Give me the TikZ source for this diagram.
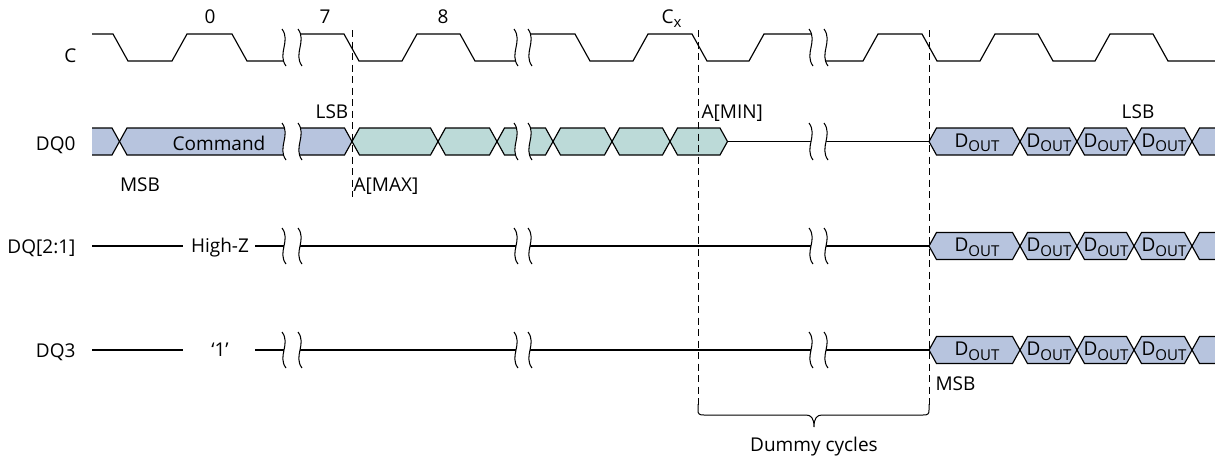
\documentclass[tikz,border=0pt]{standalone}
\usepackage{fontspec}
\setmainfont{Open Sans}
\definecolor{bluec}{RGB}{183,196,222}
\definecolor{tealc}{RGB}{188,218,216}
\newcommand\dout{D\raisebox{-4.5pt}{\fontsize{15}{15}\selectfont OUT}}
\newcommand\cellhex[4]{%
  \filldraw[fill=#4] (#1,#3) -- (#1+7.5,#3-13.5) -- (#2-7.5,#3-13.5) -- (#2,#3) -- (#2-7.5,#3+13.5) -- (#1+7.5,#3+13.5) -- cycle;}
\newcommand\brkmark[4]{%
  \fill[white] (#1-2,#3) .. controls (#1+7,{#3+0.33*(#4-#3)}) and (#1-7,{#4-0.33*(#4-#3)}) .. (#1+2,#4)
     -- (#2+2,#4) .. controls (#2-7,{#4-0.33*(#4-#3)}) and (#2+7,{#3+0.33*(#4-#3)}) .. (#2-2,#3) -- cycle;
  \draw[line width=1.05pt] (#1-2,#3) .. controls (#1+7,{#3+0.33*(#4-#3)}) and (#1-7,{#4-0.33*(#4-#3)}) .. (#1+2,#4);
  \draw[line width=1.05pt] (#2-2,#3) .. controls (#2+7,{#3+0.33*(#4-#3)}) and (#2-7,{#4-0.33*(#4-#3)}) .. (#2+2,#4);}
\begin{document}
\begin{tikzpicture}[x=1pt,y=-1pt,line width=1.15pt,
  lbl/.style={font=\fontsize{19}{21}\selectfont,inner sep=0pt},
  dsh/.style={line width=0.9pt,dash pattern=on 7pt off 4.5pt}]
\useasboundingbox (0,0) rectangle (1215,459);
\clip (0,0) rectangle (1215,459);
% clock
\draw (92,34) -- (113,34) -- (128,61) -- (172,61) -- (187,34) -- (232,34) -- (247,61) -- (287,61);
\draw (297,34) -- (344,34) -- (359,61) -- (402,61) -- (417,34) -- (460,34) -- (475,61) -- (519,61);
\draw (527,34) -- (575,34) -- (590,61) -- (633,61) -- (648,34) -- (692,34) -- (707,61) -- (749,61) -- (764,34) -- (814,34);
\draw (823,61) -- (863,61) -- (878,34) -- (922,34) -- (937,61) -- (980,61) -- (995,34) -- (1038,34) -- (1053,61) -- (1095,61) -- (1110,34) -- (1153,34) -- (1168,61) -- (1225,61);
% DQ0
\fill[bluec] (92,128) -- (112,128) -- (119.5,141.5) -- (112,155) -- (92,155) -- cycle;
\draw (92,128) -- (112,128) -- (119.5,141.5) -- (112,155) -- (92,155);
\cellhex{119.5}{352}{141.5}{bluec}
\cellhex{352}{438}{141.5}{tealc}
\cellhex{438}{497}{141.5}{tealc}
\cellhex{497}{553}{141.5}{tealc}
\cellhex{553}{612}{141.5}{tealc}
\cellhex{612}{670}{141.5}{tealc}
\cellhex{670}{727.5}{141.5}{tealc}
\draw (727.5,141.5) -- (929,141.5);
\foreach \a/\b in {929/1020,1020/1077,1077/1134,1134/1192,1192/1250}{\cellhex{\a}{\b}{141.5}{bluec}}
% DQ[2:1]
\draw (92,246) -- (183,246);
\draw (255,246) -- (929,246);
\foreach \a/\b in {929/1020,1020/1077,1077/1134,1134/1192,1192/1250}{\cellhex{\a}{\b}{246}{bluec}}
% DQ3
\draw (92,350) -- (183,350);
\draw (255,350) -- (929,350);
\foreach \a/\b in {929/1020,1020/1077,1077/1134,1134/1192,1192/1250}{\cellhex{\a}{\b}{350}{bluec}}
% breaks
\foreach \p/\q in {284/300,516/530,811/826}{
  \brkmark{\p}{\q}{29}{66}
  \brkmark{\p}{\q}{123}{160}
  \brkmark{\p}{\q}{228}{264}
  \brkmark{\p}{\q}{332}{368}
}
% dashed markers
\draw[dsh] (352,30) -- (352,197);
\draw[dsh] (698,30) -- (698,405);
\draw[dsh] (929,30) -- (929,405);
% brace
\draw[line width=1pt] (698,404) -- (698,410) .. controls (698,414) and (699,415) .. (704,415) -- (806,415)
  .. controls (811,415) and (814,418) .. (814,427) .. controls (814,418) and (817,415) .. (822,415)
  -- (923,415) .. controls (928,415) and (929,414) .. (929,410) -- (929,404);
% labels
\node[lbl,anchor=base] (n0) at (210,23) {0};
\node[lbl,anchor=base] (n7) at (325,23) {7};
\node[lbl,anchor=base] (n8) at (443,23) {8};
\node[lbl,anchor=base west] (ncx) at (661,23) {C\raisebox{-4.5pt}{\fontsize{15}{15}\selectfont x}};
\node[lbl,anchor=base east] (lc) at (77,62) {C};
\node[lbl,anchor=base east] (ldq0) at (76,150) {DQ0};
\node[lbl,anchor=base east] (ldq21) at (76,253) {DQ[2:1]};
\node[lbl,anchor=base east] (ldq3) at (76,357) {DQ3};
\node[lbl,anchor=base] (cmd) at (219,150) {Command};
\node[lbl,anchor=base] (msb1) at (140,191) {MSB};
\node[lbl,anchor=base] (lsb1) at (332,118) {LSB};
\node[lbl,anchor=base west] (amax) at (353,191) {A[MAX]};
\node[lbl,anchor=base west] (amin) at (701,118) {A[MIN]};
\node[lbl,anchor=base] (lsb2) at (1138,118) {LSB};
\node[lbl,anchor=base] (hz) at (220,252) {High-Z};
\node[lbl,anchor=base] (one) at (220,356) {‘1’};
\node[lbl,anchor=base west] (msb2) at (935,390) {MSB};
\node[lbl,anchor=base] (dummy) at (814,451) {Dummy cycles};
\foreach \y/\r in {147/a,251.5/b,355.5/c}{
  \node[lbl,anchor=base] (d1\r) at (977,\y) {\dout};
  \node[lbl,anchor=base] (d2\r) at (1049,\y) {\dout};
  \node[lbl,anchor=base] (d3\r) at (1106,\y) {\dout};
  \node[lbl,anchor=base] (d4\r) at (1164,\y) {\dout};
}
\end{tikzpicture}
\end{document}
